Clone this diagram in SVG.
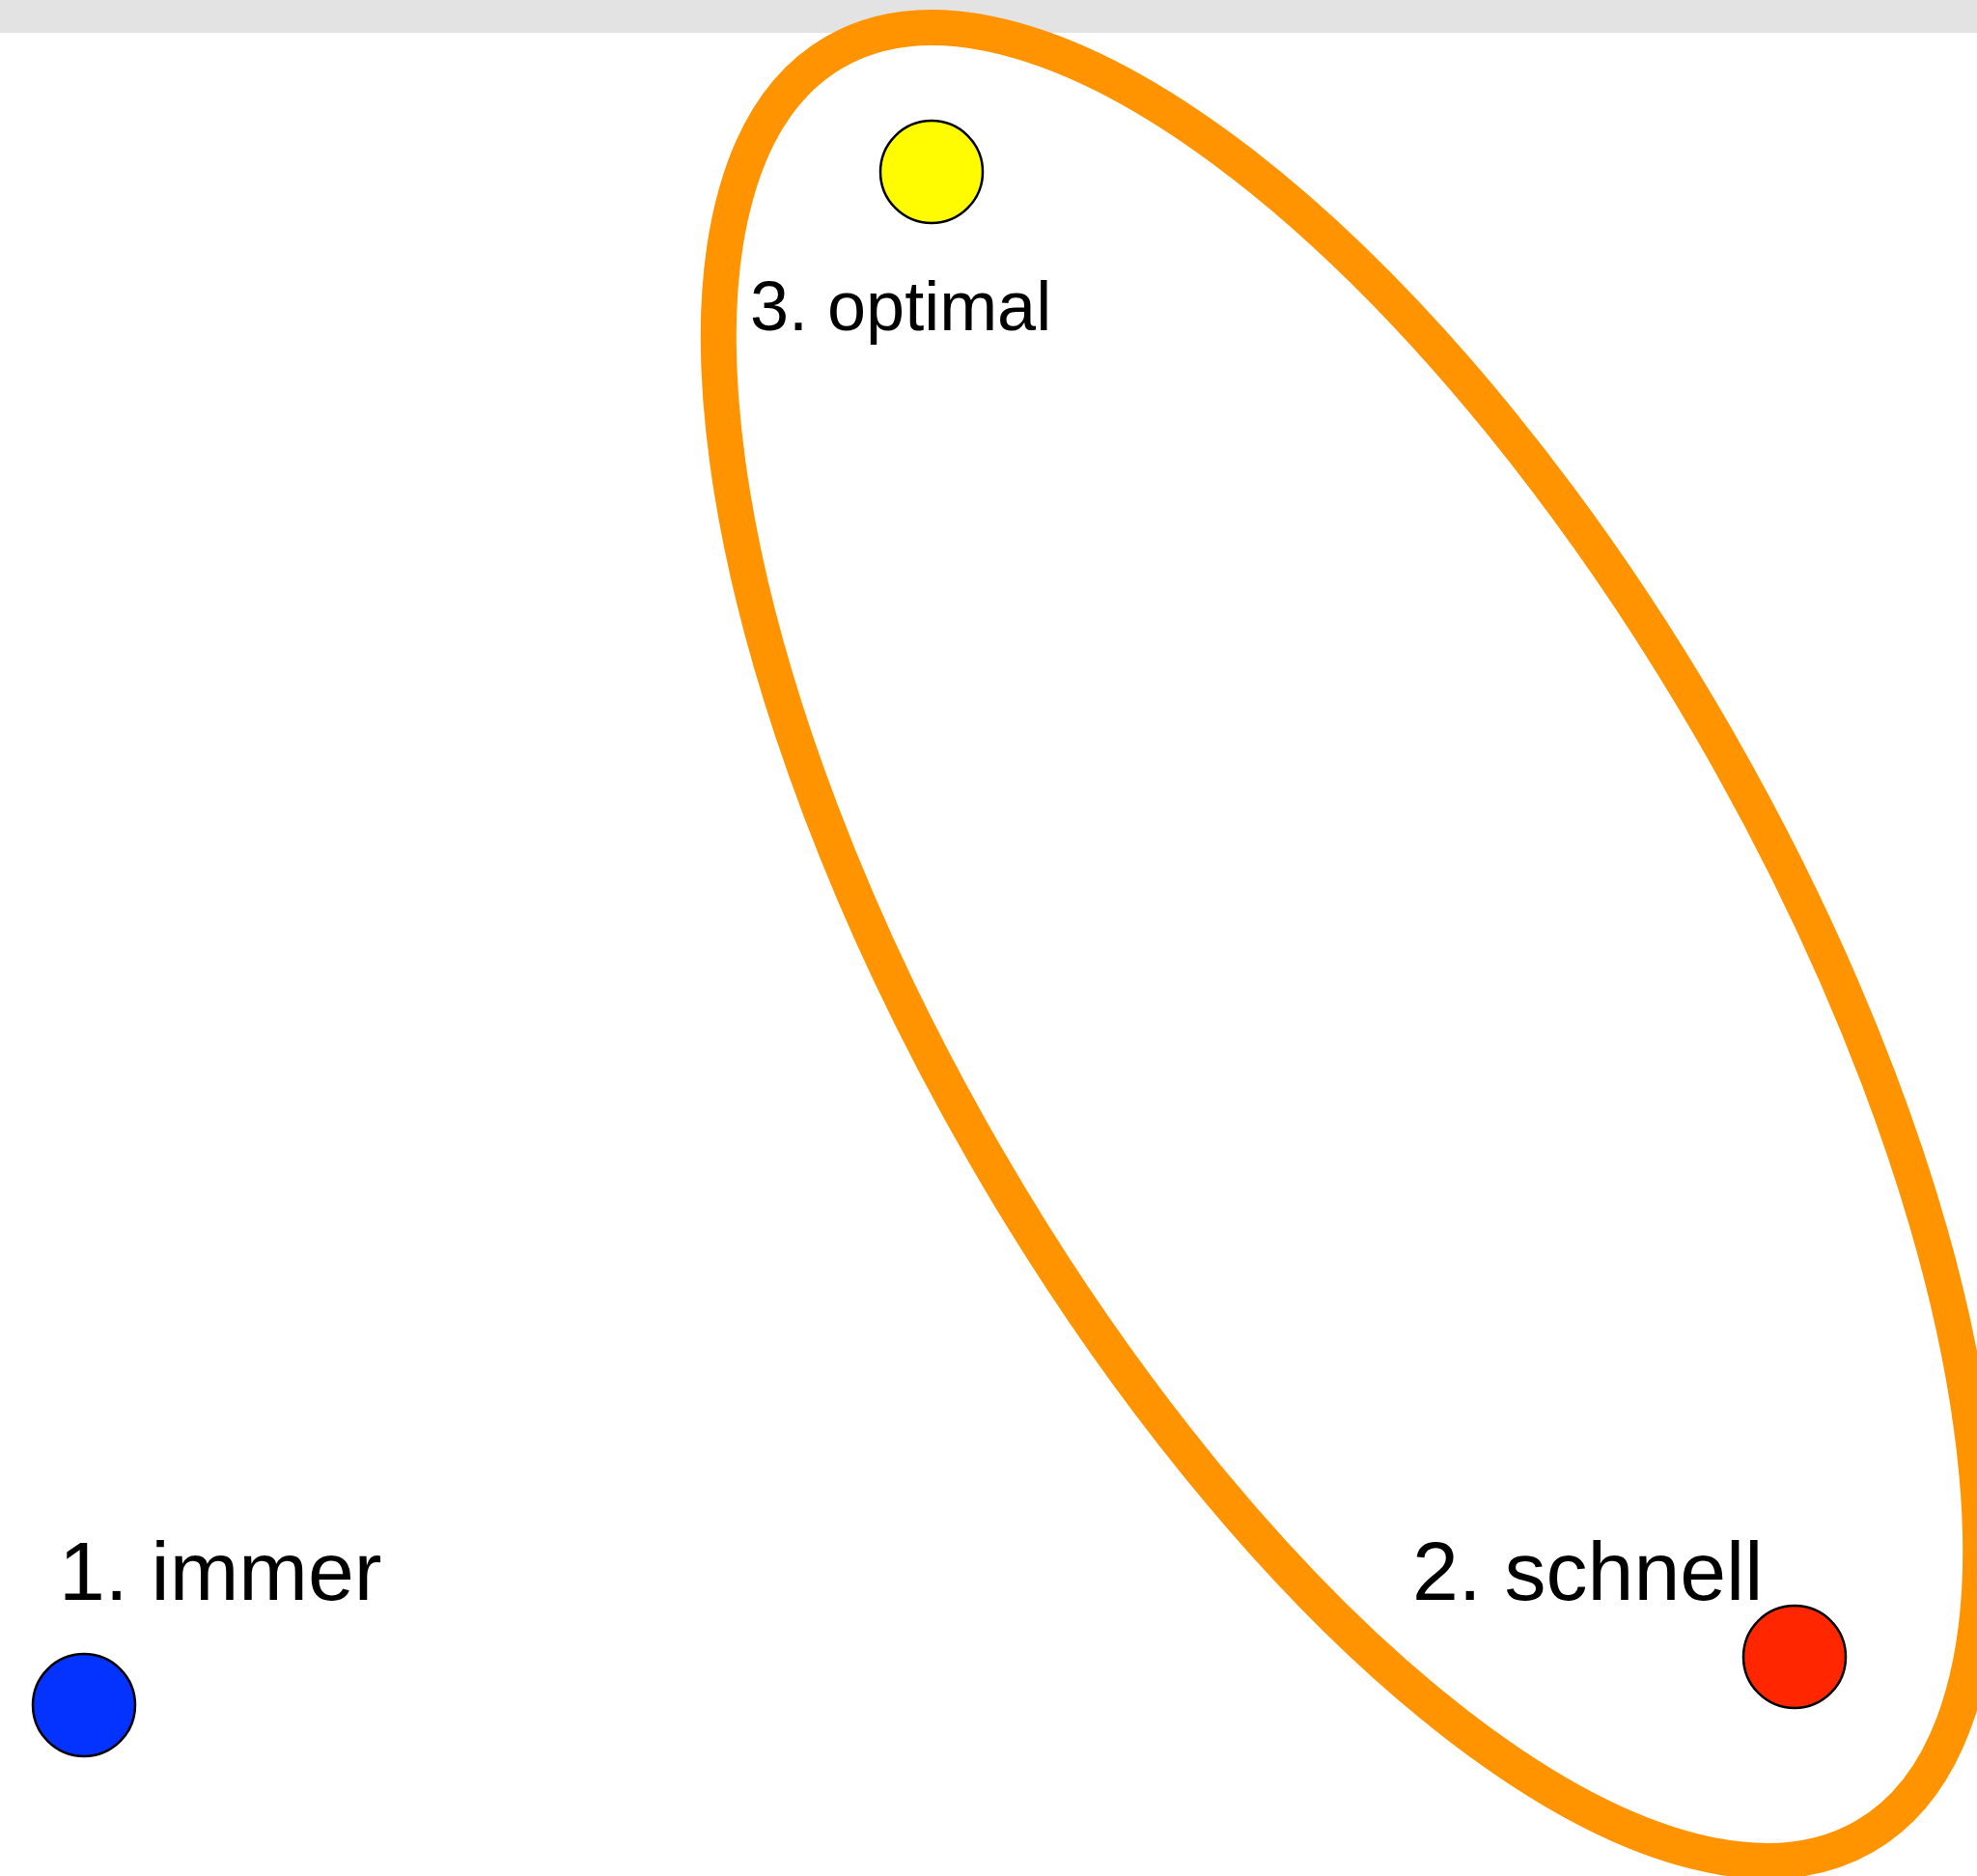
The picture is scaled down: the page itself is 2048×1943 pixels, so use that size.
<svg xmlns="http://www.w3.org/2000/svg" width="2048" height="1943" viewBox="0 0 2048 1943">
<style>
.dot{stroke:#000;stroke-width:2.5}
.lbl{font-family:"Liberation Sans",Arial,Helvetica,sans-serif;fill:#000}
</style>
<rect x="0" y="0" width="2048" height="1943" fill="#ffffff"/>
<rect x="0" y="0" width="2048" height="34" fill="#e3e3e3"/>
<g id="connectors"></g>
<g id="group-ellipse">
<ellipse cx="1398" cy="978" rx="1067" ry="436" transform="rotate(60 1398 978)" fill="none" stroke="#ff9400" stroke-width="37"/>
</g>
<g id="node-immer">
<circle class="dot" cx="87" cy="1766" r="53" fill="#0433ff"/>
<text class="lbl" x="61" y="1657" font-size="86">1. immer</text>
</g>
<g id="node-schnell">
<circle class="dot" cx="1859" cy="1716" r="53" fill="#ff2600"/>
<text class="lbl" x="1463" y="1657" font-size="86">2. schnell</text>
</g>
<g id="node-optimal">
<circle class="dot" cx="965" cy="178" r="53" fill="#fffb00"/>
<text class="lbl" x="777" y="342" font-size="72">3. optimal</text>
</g>
</svg>
